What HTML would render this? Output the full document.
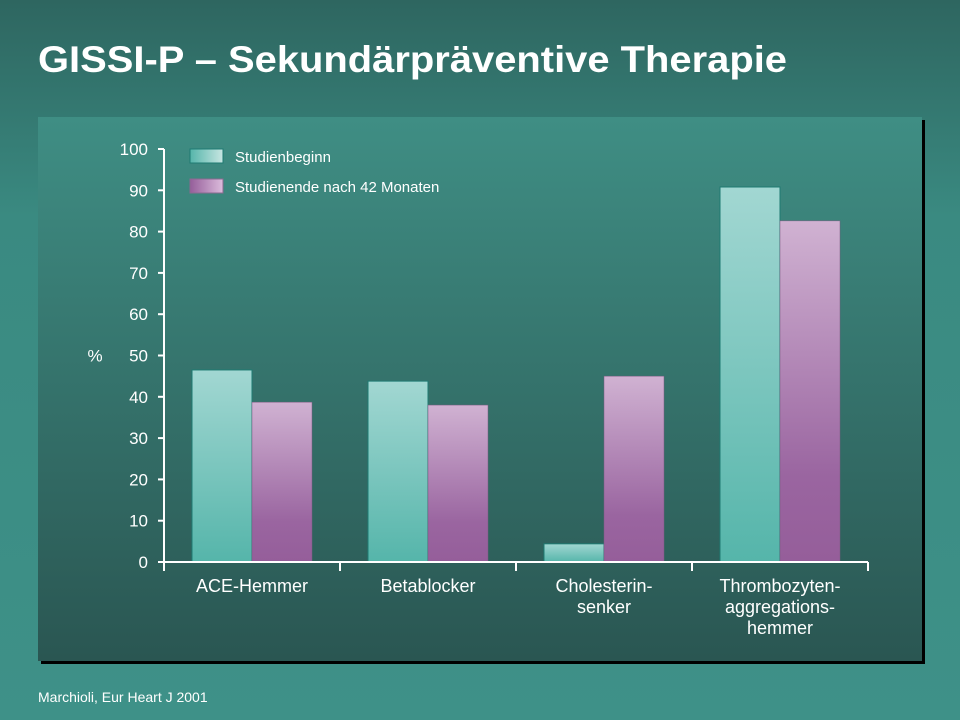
<!DOCTYPE html>
<html><head><meta charset="utf-8"><style>
html,body{margin:0;width:960px;height:720px;overflow:hidden;background:linear-gradient(#2e6660,#3a8a81 30%,#3e9188);font-family:"Liberation Sans",sans-serif}
svg{display:block}
</style></head><body>
<svg width="960" height="720" font-family="Liberation Sans, sans-serif">
<defs>
<linearGradient id="panel" x1="0" y1="0" x2="0" y2="1"><stop offset="0" stop-color="#3f8e84"/><stop offset="1" stop-color="#2a5652"/></linearGradient>
<linearGradient id="gt" x1="0" y1="0" x2="0" y2="1"><stop offset="0" stop-color="#a2d7d2"/><stop offset="1" stop-color="#55b5aa"/></linearGradient>
<linearGradient id="gp" x1="0" y1="0" x2="0" y2="1"><stop offset="0" stop-color="#d0b2d2"/><stop offset="0.75" stop-color="#9a65a0"/><stop offset="1" stop-color="#955e9a"/></linearGradient>
<linearGradient id="lt" x1="0" y1="0" x2="1" y2="0"><stop offset="0" stop-color="#55b5aa"/><stop offset="1" stop-color="#c8e6e2"/></linearGradient>
<linearGradient id="lp" x1="0" y1="0" x2="1" y2="0"><stop offset="0" stop-color="#955e9a"/><stop offset="1" stop-color="#dcbcdc"/></linearGradient>
</defs>
<text x="38" y="72" font-size="37" font-weight="bold" fill="#fff" textLength="749" lengthAdjust="spacingAndGlyphs">GISSI-P – Sekundärpräventive Therapie</text>
<rect x="41" y="120" width="884" height="544" fill="#000"/>
<rect x="38" y="117" width="884" height="544" fill="url(#panel)"/>
<g id="chart"></g>
<text x="38" y="702" font-size="14" fill="#fff">Marchioli, Eur Heart J 2001</text>
</svg>
<script>
const categories=[["ACE-Hemmer"],["Betablocker"],["Cholesterin-","senker"],["Thrombozyten-","aggregations-","hemmer"]];
const startValues=[46.5,43.8,4.4,90.8];
const endValues=[38.7,38,45,82.6];
const yTicks=[0,10,20,30,40,50,60,70,80,90,100];
const seriesNames=["Studienbeginn","Studienende nach 42 Monaten"];
const NS="http://www.w3.org/2000/svg";
const g=document.getElementById('chart');
const x0=164,x1=868,y0=562,y100=149;
const y=v=>y0-(y0-y100)*v/100;
const gw=(x1-x0)/categories.length;
const cx=i=>x0+gw*(i+0.5);
const bw=60;
function mk(t,a){const e=document.createElementNS(NS,t);for(const k in a)e.setAttribute(k,a[k]);g.appendChild(e);return e;}
let e=mk('line',{x1:x0,y1:y(0),x2:x0,y2:y(100),stroke:'#fff','stroke-width':2});


yTicks.forEach(v=>{
 let t=mk('line',{x1:x0-6,y1:y(v),x2:x0,y2:y(v),stroke:'#fff','stroke-width':2});
 
 
 let l=mk('text',{x:x0-16,y:y(v)+6,'font-size':17,fill:'#fff','text-anchor':'end'});
 l.textContent=v;
 
 
});
e=mk('text',{x:95,y:y(50)+6,'font-size':17,fill:'#fff','text-anchor':'middle'});
e.textContent='%';


for(let i=0;i<=categories.length;i++){
 let t=mk('line',{x1:x0+gw*i,y1:y0,x2:x0+gw*i,y2:y0+9,stroke:'#fff','stroke-width':2});
 
 
}
categories.forEach((c,i)=>{
 let b=mk('rect',{x:cx(i)-bw,y:y(startValues[i]),width:bw,height:y0-y(startValues[i]),fill:'url(#gt)',stroke:'#1f7a72','stroke-width':1});
 
 
 let p=mk('rect',{x:cx(i),y:y(endValues[i]),width:bw,height:y0-y(endValues[i]),fill:'url(#gp)',stroke:'#7a5a80','stroke-width':0.5});
 
 
 c.forEach((line,j)=>{
  let t=mk('text',{x:cx(i),y:592+j*21,'font-size':18,fill:'#fff','text-anchor':'middle'});
  t.textContent=line;
  
  
 });
});
e=mk('line',{x1:x0,y1:y0,x2:x1,y2:y0,stroke:'#fff','stroke-width':2});


[['url(#lt)','#1f7a72'],['url(#lp)','#8a6a90']].forEach((s,k)=>{
 let r=mk('rect',{x:190,y:149+k*30,width:33,height:14,fill:s[0],stroke:s[1],'stroke-width':1});
 
 
 let t=mk('text',{x:235,y:162+k*30,'font-size':15,fill:'#fff'});
 t.textContent=seriesNames[k];
 
 
});
</script>
</body></html>
